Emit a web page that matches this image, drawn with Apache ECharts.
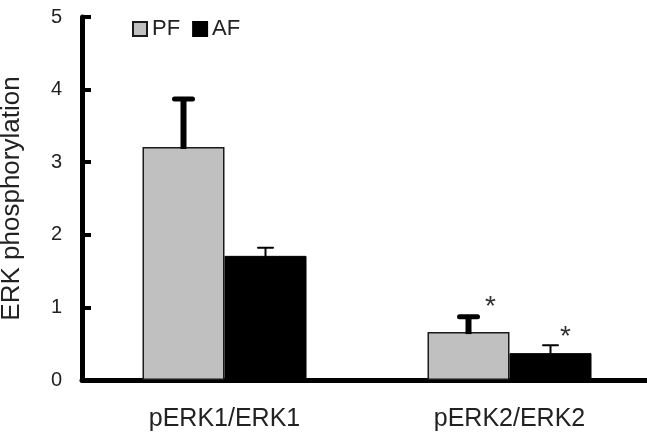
<!DOCTYPE html>
<html>
<head>
<meta charset="utf-8">
<script src="https://cdn.jsdelivr.net/npm/echarts@6/dist/echarts.min.js"></script>
<style>
  html, body { margin: 0; padding: 0; background: #fff; }
  #chart { width: 647px; height: 439px; }
</style>
</head>
<body>
<div id="chart"></div>
<script>
// ---- data ----
const categories = ['pERK1/ERK1', 'pERK2/ERK2'];
const seriesNames = ['PF', 'AF'];
const pfValues = [3.21, 0.66];
const pfErrors = [0.66, 0.21];
const afValues = [1.71, 0.37];
const afErrors = [0.11, 0.11];
const pfSignif = ['', '*'];
const afSignif = ['', '*'];
const yMin = 0, yMax = 5, yStep = 1;

// ---- style ----
const FONT = 'Arial, "Liberation Sans", sans-serif';
const TEXT = '#222';
const BAR_W = 82;

function errorItems(values, errors) {
  return values.map((v, i) => [i, v, errors[i]]);
}

function makeErrorRenderer(signif, side, lineW, capW, capThick, starDx, starDy) {
  return function (params, api) {
    const xi = api.value(0);
    const v = api.value(1);
    const e = api.value(2);
    const star = signif[params.dataIndex];
    const p0 = api.coord([xi, v]);
    const p1 = api.coord([xi, v + e]);
    const cx = p0[0] + side * BAR_W / 2;
    const children = [
      { type: 'line', shape: { x1: cx, y1: p0[1] + 2, x2: cx, y2: p1[1] },
        style: { stroke: '#000', lineWidth: lineW } },
      { type: 'line', shape: { x1: cx - capW / 2, y1: p1[1], x2: cx + capW / 2, y2: p1[1] },
        style: { stroke: '#000', lineWidth: capThick, lineCap: 'round' } }
    ];
    if (star) {
      children.push({ type: 'text', x: cx + starDx, y: p1[1] + starDy,
        style: { text: star, fill: '#333', font: '28px ' + FONT, align: 'center', verticalAlign: 'middle' } });
    }
    return { type: 'group', children: children };
  };
}

const chart = echarts.init(document.getElementById('chart'), null, { renderer: 'canvas' });
chart.setOption({
  animation: false,
  backgroundColor: '#fff',
  textStyle: { fontFamily: FONT },
  legend: {
    data: seriesNames,
    left: 127, top: 13,
    itemWidth: 14, itemHeight: 14, itemGap: 12,
    icon: 'rect',
    textStyle: { fontSize: 22, color: TEXT, fontFamily: FONT }
  },
  grid: { left: 82, right: -5, top: 17, bottom: 59, containLabel: false, outerBoundsMode: 'none' },
  xAxis: {
    type: 'category',
    data: categories,
    axisLine: { lineStyle: { color: '#000', width: 5 } },
    axisTick: { show: false },
    axisLabel: { fontSize: 25, color: TEXT, margin: 27, fontFamily: FONT }
  },
  yAxis: {
    type: 'value',
    min: yMin, max: yMax, interval: yStep,
    name: 'ERK phosphorylation',
    nameLocation: 'middle',
    nameGap: 57,
    nameTextStyle: { fontSize: 26, color: TEXT, fontFamily: FONT },
    axisLine: { show: true, lineStyle: { color: '#000', width: 5 } },
    axisTick: { show: true, inside: true, length: 9, lineStyle: { color: '#000', width: 4 } },
    axisLabel: { fontSize: 20, color: TEXT, margin: 20, fontFamily: FONT },
    splitLine: { show: false }
  },
  series: [
    {
      name: 'PF', type: 'bar', data: pfValues,
      barWidth: BAR_W, barGap: '0%',
      itemStyle: { color: '#c0c0c0', borderColor: '#1a1a1a', borderWidth: 1.5 }
    },
    {
      name: 'AF', type: 'bar', data: afValues,
      barWidth: BAR_W, barGap: '0%',
      itemStyle: { color: '#000', borderColor: '#000', borderWidth: 1 }
    },
    {
      type: 'custom', z: 5, silent: true,
      renderItem: makeErrorRenderer(pfSignif, -1, 6, 18, 5, 22, -10),
      data: errorItems(pfValues, pfErrors),
      encode: { x: 0, y: 1 }
    },
    {
      type: 'custom', z: 5, silent: true,
      renderItem: makeErrorRenderer(afSignif, 1, 2, 15, 2, 15, -8),
      data: errorItems(afValues, afErrors),
      encode: { x: 0, y: 1 }
    }
  ]
});
</script>
</body>
</html>
